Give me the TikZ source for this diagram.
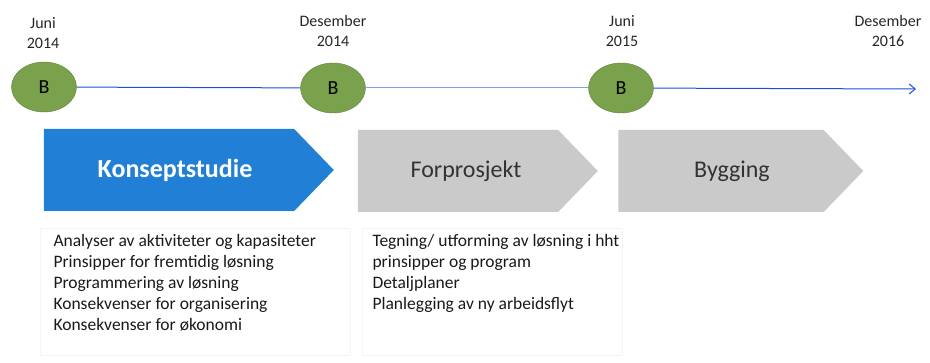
\documentclass[tikz,border=0pt]{standalone}
\usepackage{fontspec}
\setmainfont{Carlito}
\usetikzlibrary{shapes,arrows.meta,positioning}

\definecolor{phaseblue}{RGB}{33,128,214}
\definecolor{phasegray}{RGB}{202,202,202}
\definecolor{milegreen}{RGB}{122,161,76}
\definecolor{lineblue}{RGB}{25,80,225}

\begin{document}
\begin{tikzpicture}[x=1pt, y=-1pt,
    mile/.style={ellipse, draw=milegreen!80!black, fill=milegreen, minimum width=65pt, minimum height=50pt, inner sep=0pt, font=\fontsize{20}{22}\selectfont},
    date/.style={align=center, font=\fontsize{16}{20}\selectfont, text=black!85},
    phase/.style={signal, signal to=east, signal pointer angle=92, fill=#1, minimum width=240pt, minimum height=82pt, inner sep=0pt},
    title/.style={font=\fontsize{24}{26}\selectfont, text=black!80},
    tasks/.style={align=left, anchor=north west, font=\fontsize{17.5}{21}\selectfont, text=black!90},
    tline/.style={line width=1pt, draw=lineblue}
]
\useasboundingbox (0,0) rectangle (930,363);

% Milestones
\node[mile] (b1) at (44,87) {B};
\node[mile] (b2) at (333,88) {B};
\node[mile] (b3) at (621,88) {B};
\coordinate (end) at (916,89);

% Dates
\node[date] (d1) at (43,33) {Juni\\2014};
\node[date] (d2) at (333,31) {Desember\\2014};
\node[date] (d3) at (622,31) {Juni\\2015};
\node[date] (d4) at (888,31) {Desember\\2016};

% Time line
\draw[tline] (b1) -- (b2);
\draw[tline, draw=lineblue!55] (b2) -- (b3);
\draw[tline, -{Straight Barb[length=6pt, width=10pt]}] (b3) -- (end);

% Phases
\node[phase=phaseblue, minimum width=290pt] (p1) at (169,170) {};
\node[phase=phasegray] (p2) at (458,171) {};
\node[phase=phasegray, minimum width=245pt] (p3) at (721,171) {};
\node[title, text=white, font=\fontsize{26}{28}\selectfont\bfseries] (t1) at (175,170) {Konseptstudie};
\node[title] (t2) at (466,171) {Forprosjekt};
\node[title] (t3) at (732,171) {Bygging};

% Tasks
\node[draw=black!4, minimum width=310pt, minimum height=127pt, anchor=north west] (f1) at (40,228) {};
\node[draw=black!4, minimum width=260pt, minimum height=127pt, anchor=north west] (f2) at (362,228) {};
\node[tasks] (l1) at (50,231) {Analyser av aktiviteter og kapasiteter\\Prinsipper for fremtidig løsning\\Programmering av løsning\\Konsekvenser for organisering\\Konsekvenser for økonomi};
\node[tasks] (l2) at (369,231) {Tegning/ utforming av løsning i hht\\prinsipper og program\\Detaljplaner\\Planlegging av ny arbeidsflyt};
\end{tikzpicture}
\end{document}
